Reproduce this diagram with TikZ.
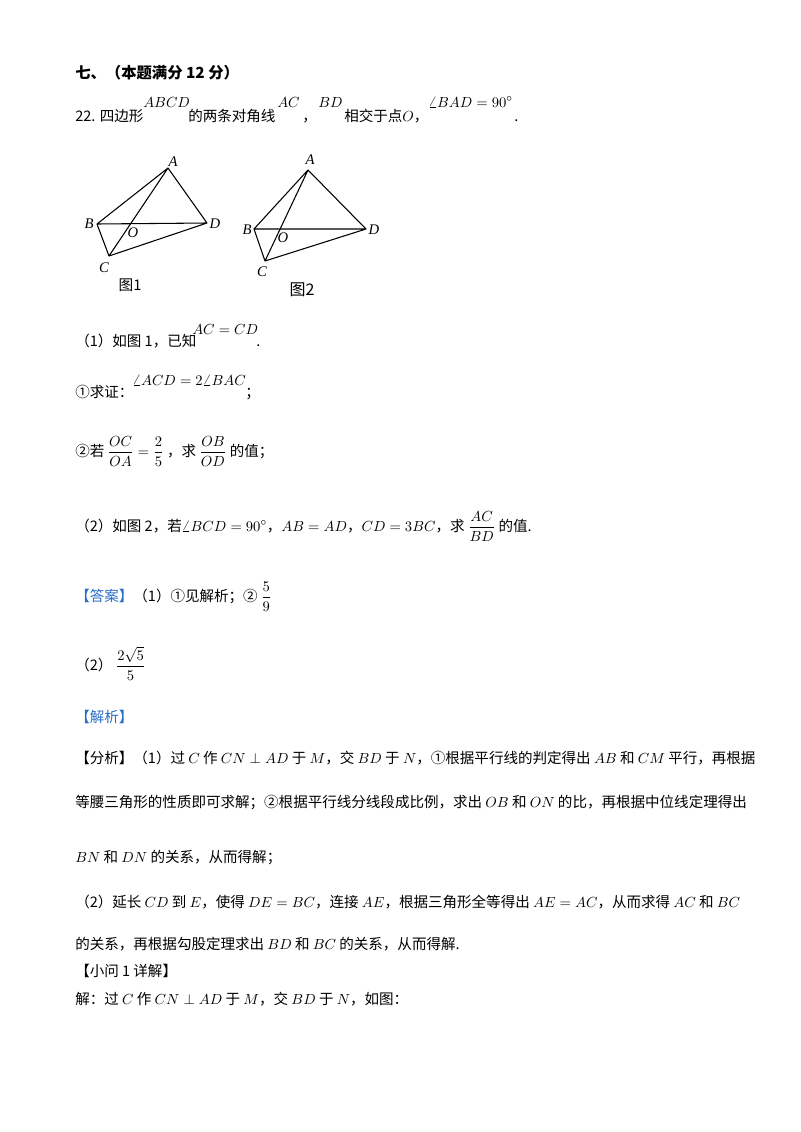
\documentclass[tikz,border=0pt]{standalone}
\usepackage{amsmath}
\usepackage{fontspec}
\setmainfont{Noto Sans CJK SC}
\newfontfamily\serifx{Liberation Serif}
\usetikzlibrary{calc}
\definecolor{ansblue}{RGB}{40,110,200}
\begin{document}
\begin{tikzpicture}[x=0.75pt,y=-0.75pt,
  txt/.style={anchor=base west,inner sep=0pt,font=\fontsize{10.9pt}{12pt}\selectfont},
  lbl/.style={inner sep=0pt,font=\fontsize{11pt}{12pt}\selectfont\serifx\itshape},
  edge/.style={line width=0.8pt}]
\useasboundingbox[fill=white] (0,0) rectangle (800,1132);
% header
\node[txt,font=\fontsize{11.5pt}{12pt}\selectfont\bfseries] (h) at (75,78) {七、（本题满分 12 分）};
\node[txt] (q1) at (75,121) {22. 四边形};
\node[txt] (q2) at (143,107) {$ABCD$};
\node[txt] (q3) at (188,121) {的两条对角线};
\node[txt] (q4) at (277,107) {$AC$};
\node[txt] (q5) at (302,121) {，};
\node[txt] (q6) at (318,107) {$BD$};
\node[txt] (q7) at (344,121) {相交于点$O$，};
\node[txt] (q8) at (428,107) {$\angle BAD=90^\circ$};
\node[txt] (q9) at (514,121) {.};
% figure 1
\coordinate (A1) at (168,168); \coordinate (B1) at (97,224);
\coordinate (D1) at (207,223); \coordinate (C1) at (109,256);
\draw[edge,line join=round] (A1)--(B1)--(C1)--(D1)--cycle (A1)--(C1) (B1)--(D1);
\node[lbl] (la1) at (173,162) {A};
\node[lbl] (lb1) at (89,224) {B};
\node[lbl] (lo1) at (133,233) {O};
\node[lbl] (ld1) at (215,224) {D};
\node[lbl] (lc1) at (104,268) {C};
\node[inner sep=0pt,font=\fontsize{11pt}{12pt}\selectfont] (f1) at (130,285) {图1};
% figure 2
\coordinate (A2) at (308,170); \coordinate (B2) at (254,229);
\coordinate (D2) at (366,229); \coordinate (C2) at (265,261);
\draw[edge,line join=round] (A2)--(B2)--(C2)--(D2)--cycle (A2)--(C2) (B2)--(D2);
\node[lbl] (la2) at (310,160) {A};
\node[lbl] (lb2) at (247,230) {B};
\node[lbl] (lo2) at (283,238) {O};
\node[lbl] (ld2) at (374,230) {D};
\node[lbl] (lc2) at (262,272) {C};
\node[inner sep=0pt,font=\fontsize{12pt}{12pt}\selectfont] (f2) at (302,290) {图2};
% part 1
\node[txt] (p1) at (75,346) {（1）如图 1，已知};
\node[txt] (p1b) at (192,334) {$AC=CD$};
\node[txt] (p1c) at (256,346) {.};
\node[txt] (p2) at (75,397) {①求证：};
\node[txt] (p2b) at (132,385) {$\angle ACD=2\angle BAC$};
\node[txt] (p2c) at (245,397) {；};
\node[txt] (p3) at (75,456) {②若 $\dfrac{OC}{OA}=\dfrac{2}{5}$ ，求 $\dfrac{OB}{OD}$ 的值；};
\node[txt] (p4) at (75,531) {（2）如图 2，若$\angle BCD=90^\circ$，$AB=AD$，$CD=3BC$，求 $\dfrac{AC}{BD}$ 的值.};
% answer
\node[txt] (a1) at (75,601) {\textcolor{ansblue}{【答案】}（1）①见解析；② $\dfrac{5}{9}$};
\node[txt] (a2) at (75,670) {（2） $\dfrac{2\sqrt5}{5}$};
\node[txt] (a3) at (75,722) {\textcolor{ansblue}{【解析】}};
\node[txt] (s1) at (75,763) {【分析】（1）过 $C$ 作 $CN\perp AD$ 于 $M$，交 $BD$ 于 $N$，①根据平行线的判定得出 $AB$ 和 $CM$ 平行，再根据};
\node[txt] (s2) at (75,807) {等腰三角形的性质即可求解；②根据平行线分线段成比例，求出 $OB$ 和 $ON$ 的比，再根据中位线定理得出};
\node[txt] (s3) at (75,862) {$BN$ 和 $DN$ 的关系，从而得解；};
\node[txt] (s4) at (75,907) {（2）延长 $CD$ 到 $E$，使得 $DE=BC$，连接 $AE$，根据三角形全等得出 $AE=AC$，从而求得 $AC$ 和 $BC$};
\node[txt] (s5) at (75,949) {的关系，再根据勾股定理求出 $BD$ 和 $BC$ 的关系，从而得解.};
\node[txt] (s6) at (75,976) {【小问 1 详解】};
\node[txt] (s7) at (75,1004) {解：过 $C$ 作 $CN\perp AD$ 于 $M$，交 $BD$ 于 $N$，如图：};
\end{tikzpicture}
\end{document}
